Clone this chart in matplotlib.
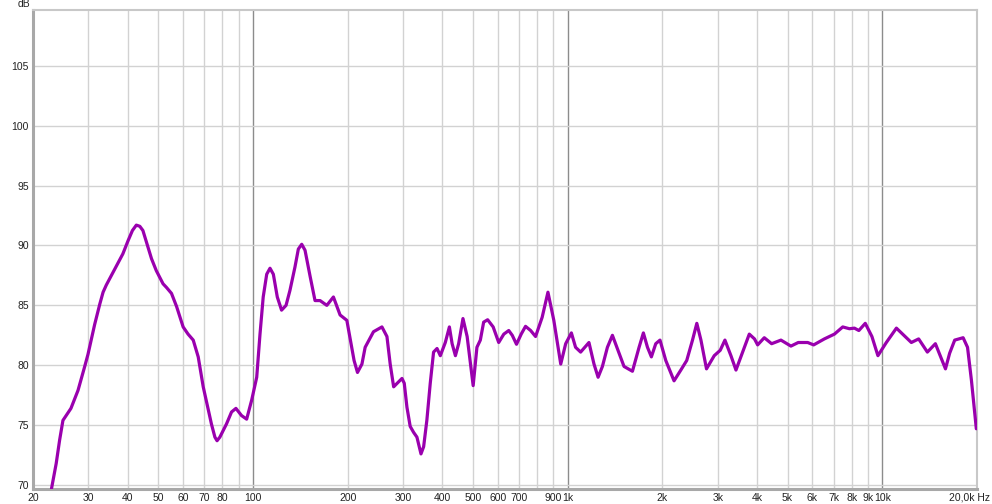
import numpy as np
import matplotlib
matplotlib.use("Agg")
import matplotlib.pyplot as plt

# frequency response (Hz, dB)
freq_hz = [22.9, 23.7, 24.3, 24.9, 26.4, 27.8, 29.2, 29.9, 30.6, 31.4, 32.6, 33.4,
           34.2, 37.2, 38.6, 40.1, 41.4, 42.6, 43.7, 44.7, 46.1, 47.6, 49.3, 51.8,
           53.1, 55.1, 57.2, 60.0, 62.2, 64.6, 67.0, 69.5, 73.8, 75.7, 76.9, 78.5,
           82.4, 85.5, 88.3, 92.0, 95.5, 99.1, 102.8, 105.3, 107.8, 110.6, 113.3,
           116.1, 119.5, 123.3, 127.4, 131.1, 136, 139.4, 142.9, 146.4, 152, 157.5,
           163.4, 171.7, 180.2, 189.2, 198.8, 209.6, 214.9, 222, 227.3, 241.6, 257,
           266.6, 273, 280, 297.6, 302.6, 308.6, 316, 324, 332, 342, 348.7, 357,
           366, 375, 384.6, 394, 408.6, 421, 429.5, 440, 450.5, 465, 479.4, 501,
           515, 528, 541, 557, 580, 604, 627, 650, 667, 688, 712, 735, 763, 791,
           830, 866, 904, 951, 986, 1028, 1060, 1100, 1169, 1213, 1250, 1290, 1338,
           1388, 1439, 1511, 1607, 1687, 1741, 1794, 1846, 1906, 1966, 2051, 2179,
           2290, 2391, 2494, 2574, 2653, 2763, 2924, 3055, 3162, 3304, 3428, 3600,
           3779, 3926, 4017, 4217, 4450, 4764, 5125, 5407, 5793, 6053, 6546, 7045,
           7488, 7863, 8156, 8425, 8830, 9270, 9686, 10300, 11090, 12370, 13050,
           13910, 14750, 15880, 16370, 16990, 18070, 18660, 19200, 19900]
level_db = [69.7, 71.8, 73.75, 75.4, 76.4, 77.9, 79.9, 80.9, 82.1, 83.4, 85.1, 86.1,
            86.7, 88.5, 89.3, 90.4, 91.25, 91.7, 91.6, 91.25, 90.1, 88.9, 87.9, 86.8,
            86.5, 86.0, 84.9, 83.2, 82.6, 82.1, 80.7, 78.2, 75.1, 74.0, 73.7, 74.0,
            75.1, 76.1, 76.4, 75.8, 75.5, 77.1, 79.0, 82.6, 85.7, 87.6, 88.1,
            87.6, 85.7, 84.6, 85.0, 86.25, 88.2, 89.7, 90.1, 89.6, 87.4, 85.4,
            85.4, 85.0, 85.7, 84.2, 83.75, 80.4, 79.4, 80.1, 81.5, 82.8, 83.2,
            82.4, 80.1, 78.2, 78.9, 78.5, 76.5, 74.9, 74.4, 74.0, 72.6, 73.2, 75.4,
            78.5, 81.1, 81.4, 80.8, 81.9, 83.2, 81.8, 80.8, 81.8, 83.9, 82.4, 78.3,
            81.5, 82.1, 83.6, 83.8, 83.2, 81.9, 82.6, 82.9, 82.5, 81.75, 82.6, 83.25, 82.9, 82.4,
            84.0, 86.1, 83.75, 80.1, 81.8, 82.7, 81.5, 81.1, 81.9, 80.1, 79.0, 79.9, 81.5,
            82.5, 81.4, 79.9, 79.5, 81.5, 82.7, 81.5, 80.7, 81.8, 82.1, 80.4, 78.7,
            79.6, 80.4, 82.1, 83.5, 82.1, 79.7, 80.8, 81.25, 82.1, 80.8, 79.6, 81.1,
            82.6, 82.2, 81.7, 82.3, 81.8, 82.1, 81.6, 81.9, 81.9, 81.7, 82.2, 82.6,
            83.2, 83.05, 83.1, 82.9, 83.5, 82.4, 80.8, 81.9, 83.1, 81.9, 82.2,
            81.1, 81.8, 79.7, 81.0, 82.1, 82.3, 81.5, 78.75, 74.7]

x_ticks = [20, 30, 40, 50, 60, 70, 80, 90, 100, 200, 300, 400, 500, 600, 700, 800, 900,
           1000, 2000, 3000, 4000, 5000, 6000, 7000, 8000, 9000, 10000, 20000]
x_labels = ["20", "30", "40", "50", "60", "70", "80", "", "100", "200", "300", "400",
            "500", "600", "700", "", "900", "1k", "2k", "3k", "4k", "5k", "6k", "7k",
            "8k", "9k", "10k", ""]
y_ticks = [70, 75, 80, 85, 90, 95, 100, 105]

W, H = 992, 504
fig = plt.figure(figsize=(W / 100, H / 100), dpi=100)
ax = fig.add_axes([33 / W, (H - 489) / H, (977 - 33) / W, (489 - 9.5) / H])

ax.set_xscale("log")
ax.set_xlim(20, 20000)
ax.set_ylim(69.67, 109.7)

# grid
for f in x_ticks:
    major = f in (100, 1000, 10000)
    ax.axvline(f, color="#8c8c8c" if major else "#d2d2d2", lw=1.0, zorder=1)
for v in y_ticks:
    ax.axhline(v, color="#d2d2d2", lw=1.0, zorder=1)

ax.plot(freq_hz, level_db, color="#9a00ae", lw=2.3, solid_joinstyle="round",
        solid_capstyle="round", zorder=3)

ax.set_xticks(x_ticks)
ax.set_xticklabels(x_labels)
ax.xaxis.set_minor_locator(matplotlib.ticker.NullLocator())
ax.set_yticks(y_ticks)
ax.set_yticklabels([str(v) for v in y_ticks])
ax.tick_params(length=0, labelsize=7.5, pad=3, colors="#222222",
               labelfontfamily="Liberation Sans")

for side in ("left", "bottom"):
    ax.spines[side].set_color("#a8a8a8")
    ax.spines[side].set_linewidth(2.2)
for side in ("top", "right"):
    ax.spines[side].set_color("#c8c8c8")
    ax.spines[side].set_linewidth(1.5)

fig.text(24 / W, 1 - 4 / H, "dB", ha="center", va="center", fontsize=7.5,
         family="Liberation Sans", color="#222222")
fig.text(990 / W, 1 - 497 / H, "20,0k Hz", ha="right", va="center", fontsize=7.5,
         family="Liberation Sans", color="#222222")

fig.savefig("out.png", dpi=100)
